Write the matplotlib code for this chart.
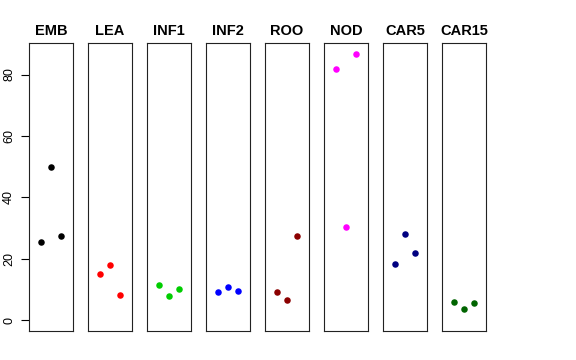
import matplotlib
matplotlib.use("Agg")
import matplotlib.pyplot as plt

plt.rcParams["font.family"] = ["Liberation Sans", "DejaVu Sans"]

# one panel per group, three observations each
groups = ["EMB", "LEA", "INF1", "INF2", "ROO", "NOD", "CAR5", "CAR15"]
colors = ["black", "red", "#00CD00", "blue", "#8B0000", "magenta", "#000080", "#006400"]
obs = [1, 2, 3]
values = [
    [25.3, 49.8, 27.5],
    [14.9, 18.0, 8.3],
    [11.4, 7.8, 10.0],
    [9.2, 10.9, 9.6],
    [9.2, 6.6, 27.4],
    [81.8, 30.4, 86.8],
    [18.1, 27.9, 21.8],
    [5.9, 3.7, 5.5],
]
yticks = [0, 20, 40, 60, 80]

W, H = 576, 360
fig = plt.figure(figsize=(W / 100, H / 100), dpi=100)

ymax = max(max(v) for v in values)
ypad = 0.04 * ymax
left0, step, pw = 29, 59, 44
top, bottom = 43, 330.7

for i, (name, col, vals) in enumerate(zip(groups, colors, values)):
    ax = fig.add_axes([(left0 + step * i) / W, 1 - bottom / H, pw / W, (bottom - top) / H])
    ax.scatter(obs, vals, s=22, color=col, linewidths=0, zorder=3)
    ax.set_xlim(0 - 0.16, 4 + 0.16)
    ax.set_ylim(0 - ypad, ymax + ypad)
    ax.set_xticks([])
    for sp in ax.spines.values():
        sp.set_linewidth(0.8)
        sp.set_color("#222222")
    ax.set_title(name, fontsize=10.5, fontweight="bold", pad=6)
    if i == 0:
        ax.set_yticks(yticks)
        ax.tick_params(axis="y", length=5.5, width=0.8, pad=4.5, labelsize=9)
        for lab in ax.get_yticklabels():
            lab.set_rotation(90)
            lab.set_va("center")
    else:
        ax.set_yticks([])

fig.savefig("out.png", dpi=100)
